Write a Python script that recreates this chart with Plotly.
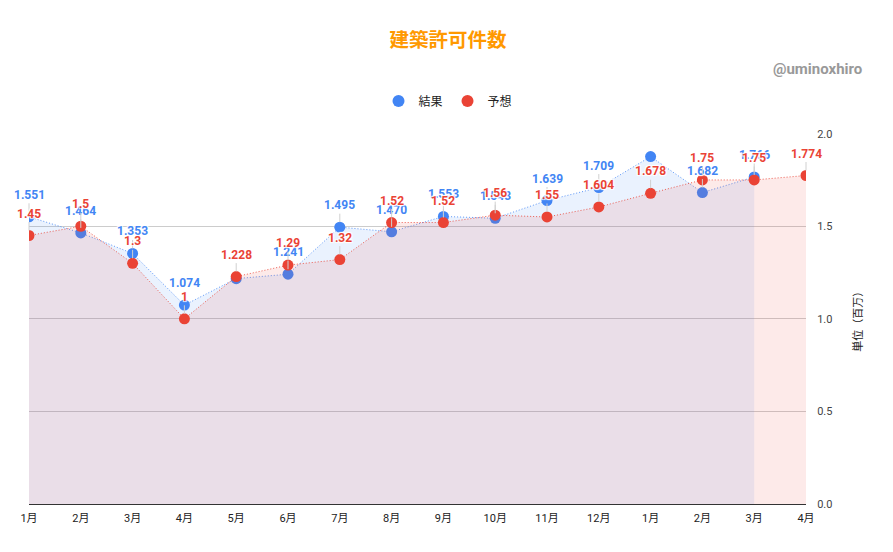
import plotly.graph_objects as go

months = ["1月", "2月", "3月", "4月", "5月", "6月", "7月", "8月", "9月", "10月",
          "11月", "12月", "1月", "2月", "3月", "4月"]
actual = [1.551, 1.464, 1.353, 1.074, 1.217, 1.241, 1.495, 1.470, 1.553, 1.543,
          1.639, 1.709, 1.876, 1.682, 1.766]
forecast = [1.45, 1.5, 1.3, 1.0, 1.228, 1.29, 1.32, 1.52, 1.52, 1.56,
            1.55, 1.604, 1.678, 1.75, 1.75, 1.774]
actual_hidden_labels = [4, 12]

BLUE = "#4285F4"
RED = "#EA4335"
FONT = "Roboto, 'Noto Sans CJK JP', sans-serif"

W, H = 885, 544  # page has an 8px body margin

xs_a = list(range(len(actual)))
xs_f = list(range(len(forecast)))

fig = go.Figure()
fig.add_trace(go.Scatter(
    x=xs_a, y=actual, name="結果", mode="lines+markers", showlegend=False,
    line=dict(color="rgba(66,133,244,0.85)", width=1, dash="1px,2px"),
    marker=dict(color=BLUE, size=11),
    fill="tozeroy", fillcolor="rgba(66,133,244,0.11)",
))
fig.add_trace(go.Scatter(
    x=xs_f, y=forecast, name="予想", mode="lines+markers", showlegend=False,
    line=dict(color="rgba(234,67,53,0.85)", width=1, dash="1px,2px"),
    marker=dict(color=RED, size=11),
    fill="tozeroy", fillcolor="rgba(234,67,53,0.11)",
))
# legend entries (circle only)
fig.add_trace(go.Scatter(x=[None], y=[None], name="結果", mode="markers",
                         marker=dict(color=BLUE, size=12)))
fig.add_trace(go.Scatter(x=[None], y=[None], name="予想", mode="markers",
                         marker=dict(color=RED, size=12)))

shadow = "1px 1px 1px white, -1px -1px 1px white, 1px -1px 1px white, -1px 1px 1px white"


def fmt(v):
    return ("%.3f" % v).rstrip("0").rstrip(".")


annotations = []
for i, v in enumerate(actual):
    if i in actual_hidden_labels:
        continue
    annotations.append(dict(
        x=i, y=v, xref="x", yref="y", text="%.3f" % v,
        showarrow=True, arrowhead=0, arrowwidth=1, arrowcolor="#d0d0d0",
        ax=0, ay=-22, standoff=5,
        font=dict(family=FONT, size=12, color=BLUE, weight="bold", shadow=shadow),
    ))
for i, v in enumerate(forecast):
    annotations.append(dict(
        x=i, y=v, xref="x", yref="y", text=fmt(v),
        showarrow=True, arrowhead=0, arrowwidth=1, arrowcolor="#d0d0d0",
        ax=0, ay=-22, standoff=5,
        font=dict(family=FONT, size=12, color=RED, weight="bold", shadow=shadow),
    ))
annotations.append(dict(
    xref="paper", yref="paper", x=1.0746, y=1.1747, xanchor="right", yanchor="middle",
    text="<b>@uminoxhiro</b>", showarrow=False,
    font=dict(family=FONT, size=15, color="#999999"),
))

fig.update_layout(
    width=W, height=H,
    margin=dict(l=20, r=87, t=124, b=48),
    paper_bgcolor="white", plot_bgcolor="white",
    font=dict(family=FONT, color="#222222"),
    title=dict(text="<b>建築許可件数</b>", x=440 / W, xref="container", xanchor="center",
               y=1 - 32 / H, yref="container", yanchor="middle",
               font=dict(family=FONT, size=19.5, color="#FF9900")),
    showlegend=True,
    legend=dict(orientation="h", x=440 / W, xref="container", xanchor="center",
                y=1 - 93 / H, yref="container", yanchor="middle",
                font=dict(family=FONT, size=12, color="#222222"),
                itemsizing="constant", itemwidth=30),
    annotations=annotations,
    hovermode=False,
)
fig.update_xaxes(
    range=[0, len(months) - 1], tickvals=list(range(len(months))), ticktext=months,
    showgrid=False, zeroline=False, showline=True, linecolor="#333333", linewidth=1,
    ticks="outside", ticklen=4, tickcolor="rgba(0,0,0,0)",
    tickfont=dict(family=FONT, size=11, color="#222222"),
)
fig.update_yaxes(
    range=[0, 2], side="right", tickvals=[0, 0.5, 1.0, 1.5, 2.0],
    ticktext=["0.0", "0.5", "1.0", "1.5", "2.0"],
    showgrid=True, gridcolor="#cccccc", gridwidth=1, zeroline=False,
    ticks="outside", ticklen=8, tickcolor="rgba(0,0,0,0)",
    tickfont=dict(family=FONT, size=11, color="#444444"),
    title=dict(text="単位（百万）", standoff=22,
               font=dict(family=FONT, size=11, color="#222222")),
)

fig.write_html("out.html")
